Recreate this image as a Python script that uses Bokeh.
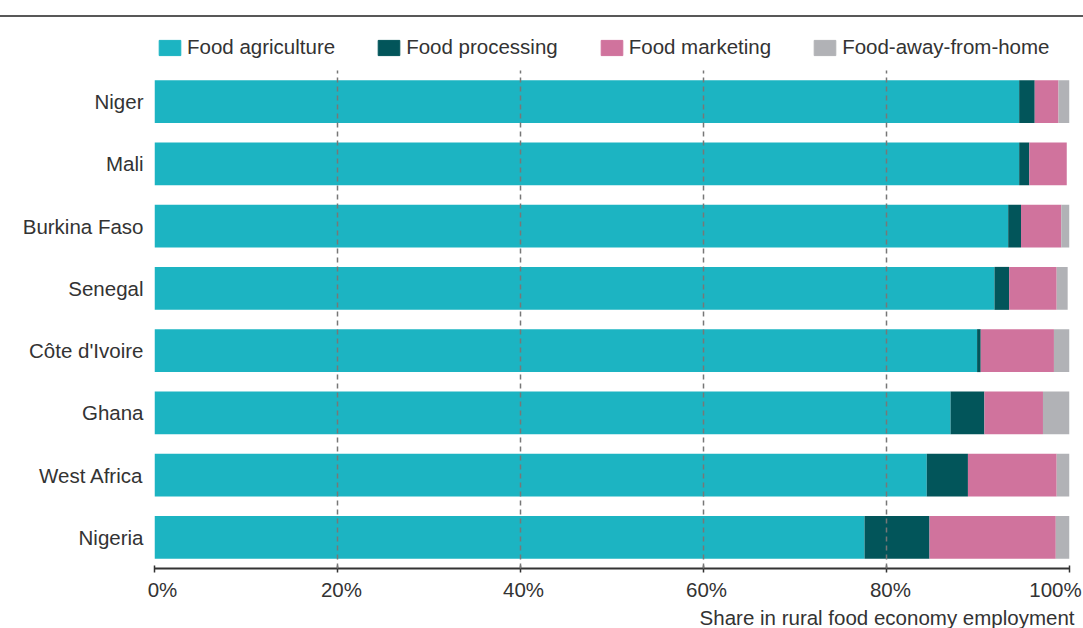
from bokeh.plotting import figure
from bokeh.models import (FactorRange, Range1d, FixedTicker, ColumnDataSource,
                          Legend, LegendItem, Title, Div)
from bokeh.layouts import column
from bokeh.embed import file_html
from bokeh.resources import INLINE

# ---- data ----
countries = ["Niger", "Mali", "Burkina Faso", "Senegal", "Côte d'Ivoire",
             "Ghana", "West Africa", "Nigeria"]
food_agriculture = [94.5, 94.5, 93.3, 91.8, 89.9, 87.0, 84.4, 77.6]
food_processing = [1.7, 1.1, 1.4, 1.6, 0.4, 3.7, 4.5, 7.1]
food_marketing = [2.6, 4.1, 4.4, 5.2, 8.0, 6.4, 9.7, 13.8]
food_away_from_home = [1.2, 0.0, 0.9, 1.2, 1.7, 2.9, 1.4, 1.5]
series_names = ["Food agriculture", "Food processing", "Food marketing",
                "Food-away-from-home"]
tick_values = [0, 20, 40, 60, 80, 100]
tick_labels = ["0%", "20%", "40%", "60%", "80%", "100%"]
x_title = "Share in rural food economy employment"

# ---- styles ----
colors = ["#1CB4C2", "#02555A", "#D0739D", "#B1B2B6"]
FONT = "Liberation Sans"
TXT = "#333333"
FS = "20.5px"
label_shift_px = [8, 4, 3, 3, 4, -14]   # tick-label nudges (pixels)
PX_PER_UNIT = 9.15

keys = ["agri", "proc", "mkt", "away"]
src = ColumnDataSource(dict(country=countries, agri=food_agriculture,
                            proc=food_processing, mkt=food_marketing,
                            away=food_away_from_home))

# ---- top rule ----
rule = Div(text="", width=1083, height=17, margin=(0, 0, 0, 0),
           styles={"border-bottom": "2px solid #585858", "box-sizing": "border-box"})

# ---- legend strip (frame aligned with the chart below) ----
h = figure(width=1083, height=53, x_range=Range1d(0, 1), y_range=Range1d(0, 1),
           x_axis_location=None, y_axis_location=None,
           min_border_left=154, min_border_right=14, min_border_top=0,
           min_border_bottom=0, output_backend="svg", toolbar_location=None)
h.grid.visible = False
h.outline_line_color = None
items = []
for name, c in zip(series_names, colors):
    r = h.hbar(y=[-5], left=[0], right=[1], height=0.1, color=c)
    items.append(LegendItem(label=name, renderers=[r]))
legend = Legend(items=items, orientation="horizontal", location=(2, 11),
                glyph_width=27, glyph_height=19, label_standoff=4, spacing=40,
                padding=0, margin=0, border_line_color=None,
                background_fill_alpha=0, label_text_font_size=FS,
                label_text_color=TXT, label_text_font=FONT)
h.add_layout(legend)

# ---- main chart ----
p = figure(width=1083, height=558, y_range=FactorRange(factors=countries[::-1]),
           x_range=Range1d(0, 100), output_backend="svg", toolbar_location=None,
           min_border_left=154, min_border_right=14, min_border_top=0,
           min_border_bottom=59)
p.outline_line_color = None
p.hbar_stack(keys, y="country", height=0.69, color=colors, line_color=None,
             source=src)

p.ygrid.visible = False
p.xgrid.ticker = FixedTicker(ticks=tick_values[1:])
p.xgrid.grid_line_color = "#777777"
p.xgrid.grid_line_dash = "5 4"
p.xgrid.grid_line_width = 1.5
p.xgrid.level = "overlay"

p.yaxis.axis_line_color = None
p.yaxis.major_tick_line_color = None
p.yaxis.minor_tick_line_color = None
p.yaxis.major_label_standoff = 5
p.yaxis.major_label_text_font_size = FS
p.yaxis.major_label_text_color = TXT
p.yaxis.major_label_text_font = FONT

# x axis: tick marks as minor ticks at the true values, labels at nudged spots
label_pos = [round(v + s / PX_PER_UNIT, 3) for v, s in zip(tick_values, label_shift_px)]
p.xaxis.ticker = FixedTicker(ticks=label_pos, minor_ticks=tick_values)
p.xaxis.major_label_overrides = dict(zip(label_pos, tick_labels))
p.xaxis.axis_line_color = "#333333"
p.xaxis.axis_line_width = 2
p.xaxis.major_tick_line_color = None
p.xaxis.major_tick_out = 4
p.xaxis.major_tick_in = 0
p.xaxis.minor_tick_line_color = "#333333"
p.xaxis.minor_tick_line_width = 1.5
p.xaxis.minor_tick_in = 3
p.xaxis.minor_tick_out = 4
p.xaxis.major_label_standoff = 5
p.xaxis.major_label_text_font_size = FS
p.xaxis.major_label_text_color = TXT
p.xaxis.major_label_text_font = FONT

p.add_layout(Title(text=x_title, align="right", offset=-5, standoff=0,
                   text_font_size=FS, text_font_style="normal",
                   text_color=TXT, text_font=FONT), "below")

layout = column(rule, h, p)
open("out.html", "w").write(file_html(layout, INLINE))
